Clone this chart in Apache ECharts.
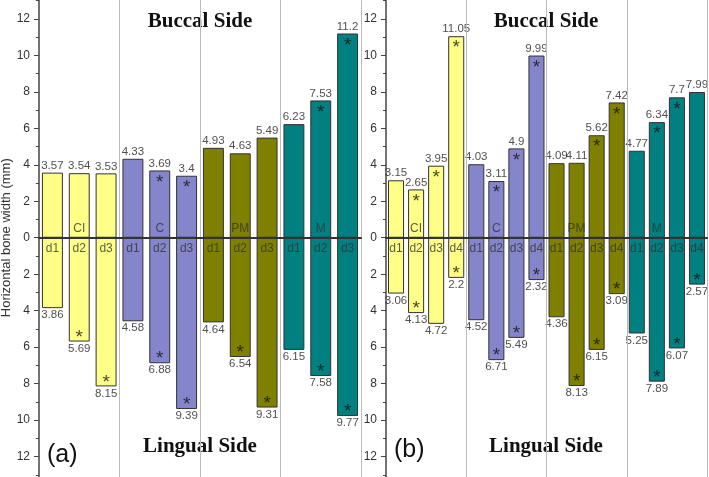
<!DOCTYPE html>
<html>
<head>
<meta charset="utf-8">
<script src="https://cdn.jsdelivr.net/npm/echarts@6/dist/echarts.min.js"></script>
<style>
  html, body { margin: 0; padding: 0; background: #fff; }
  #chart { width: 709px; height: 477px; }
</style>
</head>
<body>
<div id="chart"></div>
<script>
// groups and their colours
var groups = ['CI', 'C', 'PM', 'M']
var groupColors = ['#ffff88', '#8585cc', '#808000', '#008080']

// panel (a): three sites per group
var catsA = ['d1', 'd2', 'd3', 'd1', 'd2', 'd3', 'd1', 'd2', 'd3', 'd1', 'd2', 'd3']
var buccalA = [3.57, 3.54, 3.53, 4.33, 3.69, 3.4, 4.93, 4.63, 5.49, 6.23, 7.53, 11.2]
var lingualA = [3.86, 5.69, 8.15, 4.58, 6.88, 9.39, 4.64, 6.54, 9.31, 6.15, 7.58, 9.77]
var starBuccalA = [0, 0, 0, 0, 1, 1, 0, 0, 0, 0, 1, 1]
var starLingualA = [0, 1, 1, 0, 1, 1, 0, 1, 1, 0, 1, 1]

// panel (b): four sites per group
var catsB = ['d1', 'd2', 'd3', 'd4', 'd1', 'd2', 'd3', 'd4', 'd1', 'd2', 'd3', 'd4', 'd1', 'd2', 'd3', 'd4']
var buccalB = [3.15, 2.65, 3.95, 11.05, 4.03, 3.11, 4.9, 9.99, 4.09, 4.11, 5.62, 7.42, 4.77, 6.34, 7.7, 7.99]
var lingualB = [3.06, 4.13, 4.72, 2.2, 4.52, 6.71, 5.49, 2.32, 4.36, 8.13, 6.15, 3.09, 5.25, 7.89, 6.07, 2.57]
var starBuccalB = [0, 1, 1, 1, 0, 1, 1, 1, 0, 0, 1, 1, 0, 1, 1, 0]
var starLingualB = [0, 1, 0, 1, 0, 1, 1, 1, 0, 1, 1, 1, 0, 1, 1, 1]

var FONT = 'Liberation Sans, Arial, sans-serif'
var SERIF = 'Liberation Serif, Times New Roman, serif'

var chart = echarts.init(document.getElementById('chart'))

function panelSeries (idx, cats, buccal, lingual, starB, starL, per) {
  var colorFn = function (p) { return groupColors[Math.floor(p.dataIndex / per)] }
  var barBase = {
    type: 'bar',
    xAxisIndex: idx,
    yAxisIndex: idx,
    stack: 'tooth' + idx,
    barCategoryGap: per === 3 ? '22%' : '20%',
    itemStyle: { color: colorFn, borderColor: '#333', borderWidth: 1 },
    silent: true,
    z: 2
  }
  var textBase = {
    type: 'scatter',
    xAxisIndex: idx,
    yAxisIndex: idx,
    symbolSize: 0,
    silent: true,
    z: 5
  }
  var neg = lingual.map(function (v) { return -v })
  return [
    Object.assign({}, barBase, { data: buccal }),
    Object.assign({}, barBase, { data: neg }),
    Object.assign({}, textBase, {
      data: buccal,
      label: { show: true, position: 'top', distance: 1, fontFamily: FONT, fontSize: 11.5, color: '#222',
        formatter: function (p) { return String(buccal[p.dataIndex]) } }
    }),
    Object.assign({}, textBase, {
      data: neg,
      label: { show: true, position: 'bottom', distance: 1, fontFamily: FONT, fontSize: 11.5, color: '#222',
        formatter: function (p) { return String(lingual[p.dataIndex]) } }
    }),
    Object.assign({}, textBase, {
      data: buccal.map(function (v, i) { return starB[i] ? v : '-' }),
      label: { show: true, position: 'inside', offset: [0, 12], fontFamily: FONT, fontSize: 19, color: '#111', formatter: '*' }
    }),
    Object.assign({}, textBase, {
      data: neg.map(function (v, i) { return starL[i] ? v : '-' }),
      label: { show: true, position: 'inside', offset: [0, -4], fontFamily: FONT, fontSize: 19, color: '#111', formatter: '*' }
    }),
    Object.assign({}, textBase, {
      // group name sits on the second bar of each group
      data: buccal.map(function (v, i) { return i % per === 1 ? 0 : '-' }),
      label: { show: true, position: 'top', distance: 3, fontFamily: FONT, fontSize: 12, color: '#333',
        formatter: function (p) { return groups[Math.floor(p.dataIndex / per)] } }
    }),
    Object.assign({}, textBase, {
      // site names just under the zero line
      data: cats.map(function () { return 0 }),
      label: { show: true, position: 'bottom', distance: 5, fontFamily: FONT, fontSize: 12, color: '#333',
        formatter: function (p) { return cats[p.dataIndex] } }
    })
  ]
}

function xAxisFor (idx, cats, per) {
  return {
    type: 'category',
    gridIndex: idx,
    data: cats,
    z: 10,
    axisLine: { onZero: true, lineStyle: { color: '#333', width: 2 } },
    axisTick: { show: false },
    axisLabel: { show: false },
    splitLine: {
      show: true,
      interval: function (i) { return i > 0 && i % per === 0 },
      lineStyle: { color: '#bbb', width: 1 }
    }
  }
}

function yAxisFor (idx, name) {
  return {
    type: 'value',
    gridIndex: idx,
    min: -14,
    max: 14,
    interval: 2,
    name: name,
    nameLocation: 'middle',
    nameGap: 25,
    nameTextStyle: { fontFamily: FONT, fontSize: 13, color: '#333' },
    axisLine: { show: true, lineStyle: { color: '#444', width: 1.5 } },
    axisTick: { show: true, length: 5, lineStyle: { color: '#444' } },
    minorTick: { show: true, splitNumber: 2, length: 3, lineStyle: { color: '#444' } },
    splitLine: { show: false },
    axisLabel: {
      margin: 9,
      fontFamily: FONT,
      fontSize: 12,
      color: '#333',
      formatter: function (v) { return Math.abs(v) > 12 ? '' : String(Math.abs(v)) }
    }
  }
}

function sideTitle (text, x, y) {
  return {
    text: text, left: x, top: y, textAlign: 'center', padding: 0,
    textStyle: { fontFamily: SERIF, fontSize: 21, fontWeight: 'bold', color: '#111' }
  }
}

function panelTag (text, x, y) {
  return {
    text: text, left: x, top: y, padding: 0,
    textStyle: { fontFamily: FONT, fontSize: 25, fontWeight: 'normal', color: '#111' }
  }
}

var option = {
  backgroundColor: '#fff',
  animation: false,
  title: [
    sideTitle('Buccal Side', 200, 11),
    sideTitle('Lingual Side', 200, 436),
    sideTitle('Buccal Side', 546, 11),
    sideTitle('Lingual Side', 546, 436),
    panelTag('(a)', 47, 443),
    panelTag('(b)', 394, 438)
  ],
  grid: [
    { left: 39, width: 322, top: -17.6, height: 510.7, containLabel: false, outerBoundsMode: 'none' },
    { left: 386, width: 321, top: -17.6, height: 510.7, containLabel: false, outerBoundsMode: 'none' }
  ],
  xAxis: [xAxisFor(0, catsA, 3), xAxisFor(1, catsB, 4)],
  yAxis: [yAxisFor(0, 'Horizontal bone width (mm)'), yAxisFor(1, '')],
  series: [].concat(
    panelSeries(0, catsA, buccalA, lingualA, starBuccalA, starLingualA, 3),
    panelSeries(1, catsB, buccalB, lingualB, starBuccalB, starLingualB, 4)
  )
}

chart.setOption(option)
</script>
</body>
</html>
